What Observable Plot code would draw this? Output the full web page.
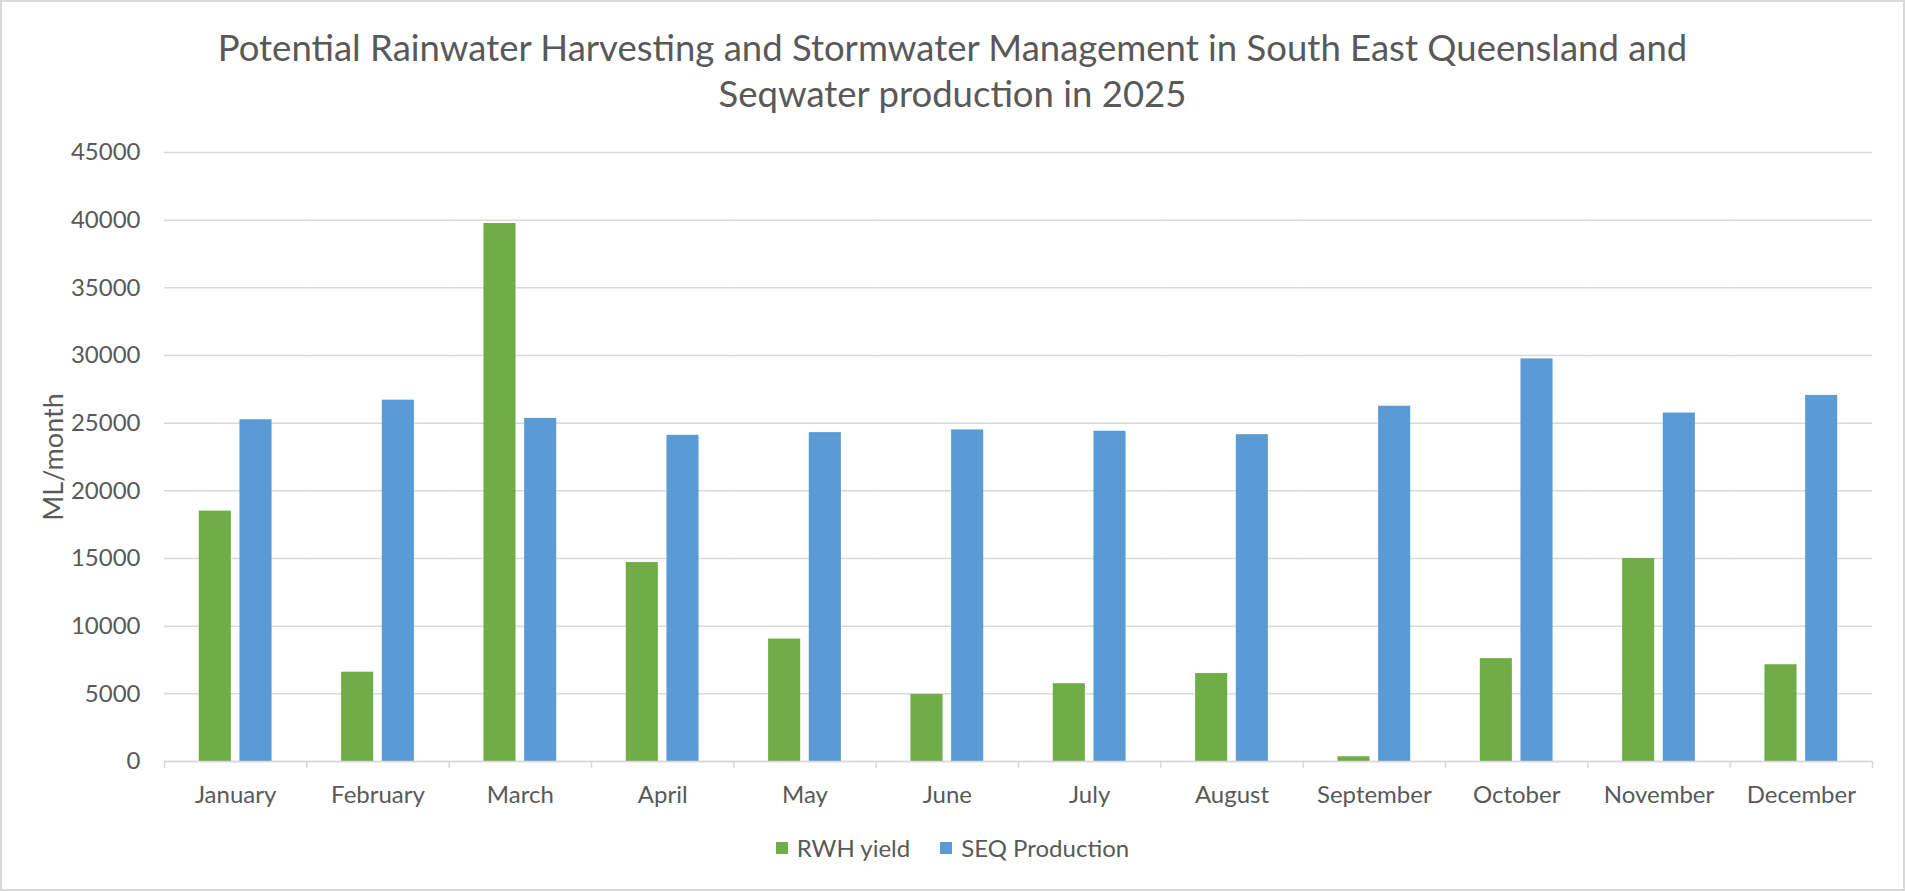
<!DOCTYPE html>
<html>
<head>
<meta charset="utf-8">
<script src="https://cdn.jsdelivr.net/npm/d3@7"></script>
<script src="https://cdn.jsdelivr.net/npm/@observablehq/plot@0.6"></script>
<style>
  html, body { margin: 0; padding: 0; background: #fff; }
  #chart { position: relative; width: 1905px; height: 891px; background: #fff; font-family: Lato, "Open Sans", sans-serif; color: #595959; overflow: hidden; }
  #border { position: absolute; left: 0; top: 0; width: 1905px; height: 891px; box-sizing: border-box; border: 2px solid #d9d9d9; pointer-events: none; }
  #title { position: absolute; left: 0; top: 24px; width: 100%; text-align: center; font-size: 36.5px; line-height: 46px; color: #595959; }
  #plot { position: absolute; left: 0; top: 110px; }
  #legend { position: absolute; left: 0; top: 833px; width: 100%; display: flex; justify-content: center; align-items: center; font-size: 24px; color: #595959; }
  .item { display: flex; align-items: center; margin: 0 15px; }
  .sw { width: 12px; height: 12px; margin-right: 9px; }
</style>
</head>
<body>
<div id="chart">
  <div id="title">Potential Rainwater Harvesting and Stormwater Management in South East Queensland and<br>Seqwater production in 2025</div>
  <div id="plot"></div>
  <div id="legend"></div>
  <div id="border"></div>
</div>
<script>
const months = ["January","February","March","April","May","June","July","August","September","October","November","December"];
const series = ["RWH yield", "SEQ Production"];
const colors = ["#70AD47", "#5B9BD5"];
const rwhYield = [18500, 6600, 39750, 14700, 9050, 4950, 5750, 6500, 350, 7600, 15000, 7150];
const seqProduction = [25250, 26700, 25350, 24100, 24300, 24500, 24400, 24150, 26250, 29750, 25750, 27050];
const yTicks = [0, 5000, 10000, 15000, 20000, 25000, 30000, 35000, 40000, 45000];
const yLabel = "ML/month";

const data = [];
months.forEach((m, i) => {
  data.push({month: m, series: series[0], value: rwhYield[i]});
  data.push({month: m, series: series[1], value: seqProduction[i]});
});

const width = 1905, height = 720;
const marginLeft = 164, marginRight = 33, marginTop = 42, marginBottom = 69;
const step = (width - marginLeft - marginRight) / months.length;
const grey = "#d9d9d9";
const textColor = "#595959";

const chart = Plot.plot({
  width, height, marginLeft, marginRight, marginTop, marginBottom,
  style: {fontFamily: "Lato, 'Open Sans', sans-serif", color: textColor, background: "transparent", overflow: "visible"},
  fx: {domain: months, padding: 0, round: false, label: null},
  x: {domain: series, paddingInner: 0.211, paddingOuter: 0.855, round: false, axis: null},
  y: {domain: [0, 45000], ticks: yTicks},
  color: {domain: series, range: colors},
  marks: [
    Plot.gridY(yTicks, {stroke: grey, strokeOpacity: 1, strokeWidth: 1.5}),
    Plot.barY(data, {fx: "month", x: "series", y: "value", fill: "series"}),
    Plot.ruleY([0], {stroke: grey, strokeWidth: 1.5}),
    Plot.axisY(yTicks, {tickSize: 0, tickPadding: 24, fontSize: 24, fill: textColor, tickFormat: d => String(d),
      label: yLabel, labelAnchor: "center", labelOffset: 121, labelArrow: "none"}),
    Plot.axisFx({anchor: "bottom", tickSize: 0, tickPadding: 24, fontSize: 24, fill: textColor, label: null}),
    Plot.axisFx({anchor: "bottom", tickSize: 7, fill: "none", label: null, stroke: grey, strokeWidth: 1.5, dx: -step / 2}),
    Plot.axisFx({anchor: "bottom", ticks: [months[months.length - 1]], tickSize: 7, fill: "none", label: null, stroke: grey, strokeWidth: 1.5, dx: step / 2})
  ]
});
document.getElementById("plot").appendChild(chart);

// y label font size
chart.querySelectorAll("g[aria-label='y-axis label'] text").forEach(t => t.setAttribute("font-size", 27));

const legend = document.getElementById("legend");
series.forEach((s, i) => {
  const item = document.createElement("div");
  item.className = "item";
  const sw = document.createElement("span");
  sw.className = "sw";
  sw.style.background = colors[i];
  const lab = document.createElement("span");
  lab.textContent = s;
  item.appendChild(sw);
  item.appendChild(lab);
  legend.appendChild(item);
});
</script>
</body>
</html>
